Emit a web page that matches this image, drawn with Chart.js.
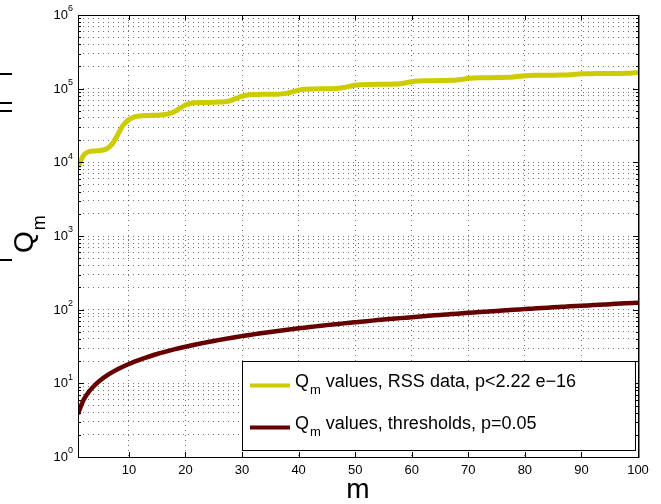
<!DOCTYPE html>
<html>
<head>
<meta charset="utf-8">
<script src="https://cdn.jsdelivr.net/npm/chart.js@4/dist/chart.umd.min.js"></script>
<style>
  html, body { margin: 0; padding: 0; background: #fff; }
  #wrap { width: 661px; height: 504px; position: relative; }
</style>
</head>
<body>
<div id="wrap"><canvas id="c" width="661" height="504"></canvas></div>
<script>
// ---- data ----
const mValues = [1,2,3,4,5,6,7,8,9,10,11,12,13,14,15,16,17,18,19,20,
  21,22,23,24,25,26,27,28,29,30,31,32,33,34,35,36,37,38,39,40,
  41,42,43,44,45,46,47,48,49,50,51,52,53,54,55,56,57,58,59,60,
  61,62,63,64,65,66,67,68,69,70,71,72,73,74,75,76,77,78,79,80,
  81,82,83,84,85,86,87,88,89,90,91,92,93,94,95,96,97,98,99,100];

const rssQ = [8700,12500,14000,14300,14500,15200,17500,23500,32000,38000,
  41500,42700,43200,43400,43700,44300,45500,48500,54000,60000,
  63500,64600,65000,65100,65300,65700,66500,69000,74000,79000,
  82000,83200,83600,83700,83900,84200,85000,87000,91000,95500,
  98000,99000,99300,99400,99600,100000,101000,103500,107500,111000,
  113000,114000,114300,114500,114600,114900,115500,117000,120500,124500,
  127000,128000,128300,128500,128700,129000,129600,131000,134500,138000,
  140000,140800,141000,141200,141400,141700,142500,144500,147500,150000,
  151300,151800,152000,152200,152400,152700,153300,154800,157000,158800,
  159700,160000,160100,160200,160300,160500,160900,161800,163500,166000];

const thresholdQ = [3.84,5.99,7.81,9.49,11.07,12.59,14.07,15.51,16.92,18.31,
  19.68,21.03,22.36,23.68,25.00,26.30,27.59,28.87,30.14,31.41,
  32.67,33.92,35.17,36.42,37.65,38.89,40.11,41.34,42.56,43.77,
  44.99,46.19,47.40,48.60,49.80,51.00,52.19,53.38,54.57,55.76,
  56.94,58.12,59.30,60.48,61.66,62.83,64.00,65.17,66.34,67.50,
  68.67,69.83,70.99,72.15,73.31,74.47,75.62,76.78,77.93,79.08,
  80.23,81.38,82.53,83.68,84.82,85.96,87.11,88.25,89.39,90.53,
  91.67,92.81,93.95,95.08,96.22,97.35,98.48,99.62,100.75,101.88,
  103.01,104.14,105.27,106.39,107.52,108.65,109.77,110.90,112.02,113.15,
  114.27,115.39,116.51,117.63,118.75,119.87,120.99,122.11,123.23,124.34];

const xTickValues = [10,20,30,40,50,60,70,80,90,100];
const xTickLabels = ['10','20','30','40','50','60','70','80','90','100'];
const yDecades = [1,10,100,1000,10000,100000,1000000];
const yExponents = ['0','1','2','3','4','5','6'];
const yMinorMultipliers = [2,3,4,5,6,7,8,9];

const seriesNames = ['values, RSS data, p<2.22 e\u221216', 'values, thresholds, p=0.05'];
const seriesColors = ['#cccc00', '#660000'];
const yTitleMain = 'Q';
const yTitleSub = 'm';
const xTitle = 'm';

const FONT = "'Liberation Sans', Arial, Helvetica, sans-serif";

// all y grid values (decades + minors)
const yGridValues = [];
yDecades.forEach((d, i) => {
  yGridValues.push(d);
  if (i < yDecades.length - 1) yMinorMultipliers.forEach(k => yGridValues.push(d * k));
});

const deco = {
  id: 'deco',
  afterDraw(chart) {
    const { ctx, chartArea: a, scales: { x, y } } = chart;
    const L = Math.round(a.left), R = Math.round(a.right), T = Math.round(a.top), B = Math.round(a.bottom);
    ctx.save();
    // box
    ctx.strokeStyle = '#000';
    ctx.lineWidth = 1;
    ctx.beginPath();
    ctx.moveTo(L + 0.5, T); ctx.lineTo(L + 0.5, B + 1);
    ctx.moveTo(L, B + 0.5); ctx.lineTo(R + 1, B + 0.5);
    ctx.moveTo(L, T + 0.5); ctx.lineTo(R + 1, T + 0.5);
    ctx.stroke();
    ctx.lineWidth = 1.5;
    ctx.beginPath();
    ctx.moveTo(R + 0.75, T); ctx.lineTo(R + 0.75, B + 1);
    ctx.stroke();
    ctx.lineWidth = 1;
    // y ticks
    ctx.beginPath();
    yGridValues.forEach(v => {
      const py = Math.round(y.getPixelForValue(v)) + 0.5;
      const major = yDecades.includes(v);
      const len = major ? 6 : 3;
      ctx.moveTo(L, py); ctx.lineTo(L + len, py);
      ctx.moveTo(R + 1, py); ctx.lineTo(R + 1 - len, py);
    });
    // x ticks
    xTickValues.forEach(v => {
      const px = Math.round(x.getPixelForValue(v)) + 0.5;
      ctx.moveTo(px, B); ctx.lineTo(px, B - 5);
      ctx.moveTo(px, T); ctx.lineTo(px, T + 5);
    });
    ctx.stroke();

    // y tick labels 10^e
    ctx.fillStyle = '#000';
    yDecades.forEach((d, i) => {
      const py = y.getPixelForValue(d);
      ctx.font = '13px ' + FONT;
      ctx.textAlign = 'right';
      ctx.textBaseline = 'middle';
      ctx.fillText('10', L - 10, py + 0.5);
      ctx.font = '9px ' + FONT;
      ctx.textAlign = 'left';
      ctx.fillText(yExponents[i], L - 10, py - 6);
    });
    // x tick labels
    ctx.font = '13px ' + FONT;
    ctx.textAlign = 'center';
    ctx.textBaseline = 'middle';
    xTickValues.forEach((v, i) => {
      ctx.fillText(xTickLabels[i], x.getPixelForValue(v), B + 13);
    });
    // x title
    ctx.font = '28px ' + FONT;
    ctx.textBaseline = 'alphabetic';
    ctx.fillText(xTitle, (L + R) / 2, 498);

    // y title (rotated)
    ctx.save();
    ctx.translate(33, 253);
    ctx.rotate(-Math.PI / 2);
    ctx.textAlign = 'left';
    ctx.font = '28px ' + FONT;
    ctx.fillText(yTitleMain, 0, 0);
    const qw = ctx.measureText(yTitleMain).width;
    ctx.font = '18px ' + FONT;
    ctx.fillText(yTitleSub, qw + 1, 12);
    ctx.restore();
    // clipped label fragments at the left edge
    ctx.fillRect(0, 73, 12, 2);
    ctx.fillRect(0, 102, 12, 2);
    ctx.fillRect(0, 110, 12, 2);
    ctx.fillRect(0, 259, 12, 2);

    // legend
    const lx = 242, ly = 361, lw = 393, lh = 89;
    ctx.fillStyle = '#fff';
    ctx.fillRect(lx, ly, lw, lh);
    ctx.strokeStyle = '#000';
    ctx.lineWidth = 1;
    ctx.strokeRect(lx + 0.5, ly + 0.5, lw, lh);
    const rows = [387, 429];
    rows.forEach((base, i) => {
      ctx.strokeStyle = seriesColors[i];
      ctx.lineWidth = 4;
      ctx.beginPath();
      ctx.moveTo(250, base - 1.5);
      ctx.lineTo(290, base - 1.5);
      ctx.stroke();
      ctx.fillStyle = '#000';
      ctx.textAlign = 'left';
      ctx.textBaseline = 'alphabetic';
      ctx.font = '18px ' + FONT;
      ctx.fillText('Q', 295, base);
      const w1 = ctx.measureText('Q').width;
      ctx.font = '13px ' + FONT;
      ctx.fillText('m', 295 + w1 + 1, base + 7);
      const w2 = ctx.measureText('m').width;
      ctx.font = '18px ' + FONT;
      ctx.fillText(' ' + seriesNames[i], 295 + w1 + 1 + w2, base);
    });
    ctx.restore();
  }
};

const gridColor = 'rgba(0,0,0,0.55)';

new Chart(document.getElementById('c'), {
  type: 'line',
  data: {
    datasets: [
      {
        label: seriesNames[0],
        data: mValues.map((m, i) => ({ x: m, y: rssQ[i] })),
        borderColor: seriesColors[0],
        borderWidth: 5,
        pointRadius: 0,
        cubicInterpolationMode: 'monotone',
        fill: false
      },
      {
        label: seriesNames[1],
        data: mValues.map((m, i) => ({ x: m, y: thresholdQ[i] })),
        borderColor: seriesColors[1],
        borderWidth: 4.5,
        pointRadius: 0,
        cubicInterpolationMode: 'monotone',
        fill: false
      }
    ]
  },
  options: {
    responsive: false,
    animation: false,
    devicePixelRatio: 1,
    layout: { padding: { left: 78, right: 23, top: 15, bottom: 47 } },
    plugins: { legend: { display: false }, tooltip: { enabled: false } },
    scales: {
      x: {
        type: 'linear',
        min: 1, max: 100,
        afterBuildTicks(scale) { scale.ticks = xTickValues.slice(0, -1).map(v => ({ value: v })); },
        afterFit(scale) { scale.height = 0; },
        ticks: { display: false, autoSkip: false },
        grid: { color: gridColor, lineWidth: 1, drawTicks: false },
        border: { display: false, dash: [1, 4] }
      },
      y: {
        type: 'logarithmic',
        min: 1, max: 1000000,
        afterBuildTicks(scale) { scale.ticks = yGridValues.map(v => ({ value: v })); },
        afterFit(scale) { scale.width = 0; },
        ticks: { display: false, autoSkip: false },
        grid: { color: gridColor, lineWidth: 1, drawTicks: false },
        border: { display: false, dash: [1, 4] }
      }
    }
  },
  plugins: [deco]
});
</script>
</body>
</html>
